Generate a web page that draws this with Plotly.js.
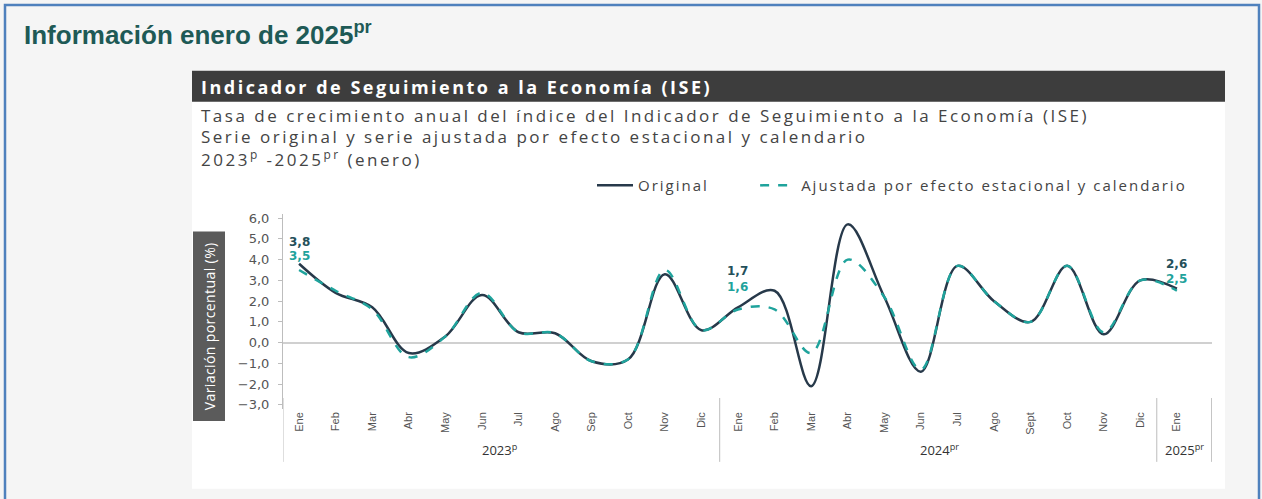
<!DOCTYPE html>
<html>
<head>
<meta charset="utf-8">
<script src="https://cdn.plot.ly/plotly-3.0.1.min.js"></script>
<style>
html,body{margin:0;padding:0;background:#f5f5f5;}
#chart{width:1262px;height:499px;}
text.annotation-text[style*="font-size: 18px"]{letter-spacing:2.5px;}
text.annotation-text[style*="font-size: 17px"]{letter-spacing:2.5px;}
text.annotation-text[style*="font-size: 14px"]{letter-spacing:0.4px;}
text.legendtext{letter-spacing:2px;}
</style>
</head>
<body>
<div id="chart"></div>
<script>
// ---- data ----
var months = ['Ene','Feb','Mar','Abr','May','Jun','Jul','Ago','Sep','Oct','Nov','Dic',
              'Ene','Feb','Mar','Abr','May','Jun','Jul','Ago','Sept','Oct','Nov','Dic',
              'Ene'];
var original = [3.8,2.4,1.7,-0.5,0.3,2.3,0.5,0.45,-0.9,-0.8,3.3,0.6,
                1.7,2.5,-2.1,5.7,2.2,-1.4,3.7,2.0,1.0,3.7,0.4,3.0,
                2.6];
var ajustada = [3.5,2.5,1.6,-0.7,0.3,2.4,0.5,0.45,-0.9,-0.8,3.5,0.6,
                1.6,1.6,-0.5,4.0,2.2,-1.3,3.7,2.0,1.0,3.7,0.5,3.0,
                2.5];
var years = ['2023<sup>p</sup>','2024<sup>pr</sup>','2025<sup>pr</sup>'];
var yearCenters = [5.5, 17.5, 24.2];
var yearBounds = [-0.44, 11.5, 23.45, 24.95];
var labelIdx = [0, 12, 24];
var subtitleLines = [
  'Tasa de crecimiento anual del índice del Indicador de Seguimiento a la Economía (ISE)',
  'Serie original y serie ajustada por efecto estacional y calendario',
  '2023<sup>p</sup> -2025<sup>pr</sup> (enero)'
];
var subtitleY = [115, 136, 158];

// ---- geometry helpers ----
var W = 1262, H = 499;
var L = 283, R = 1212, T = 213.5, B = 409;
function xp(px){ return (px - L) / (R - L); }
function yp(py){ return (B - py) / (B - T); }
function fmt(v){ return v.toFixed(1).replace('.', ','); }

var idx = months.map(function(_, i){ return i; });

var traces = [
  {x: idx, y: original, name: 'Original&nbsp;&nbsp;&nbsp;&nbsp;&nbsp;&nbsp;&nbsp;', type: 'scatter', mode: 'lines',
   line: {color: '#27394a', width: 2.5, shape: 'spline', smoothing: 1}},
  {x: idx, y: ajustada, name: 'Ajustada por efecto estacional y calendario', type: 'scatter', mode: 'lines',
   line: {color: '#1fa39c', width: 2.5, dash: 'dash', shape: 'spline', smoothing: 1}}
];

var shapes = [
  {type:'rect', xref:'paper', yref:'paper', x0:xp(5), x1:xp(1259), y0:yp(4), y1:yp(520),
   line:{color:'#4f81bd', width:2.5}, fillcolor:'rgba(0,0,0,0)', layer:'below'},
  {type:'rect', xref:'paper', yref:'paper', x0:xp(192), x1:xp(1225), y0:yp(70), y1:yp(489),
   line:{width:0}, fillcolor:'#ffffff', layer:'below'},
  {type:'rect', xref:'paper', yref:'paper', x0:xp(192), x1:xp(1225), y0:yp(70), y1:yp(101),
   line:{width:0}, fillcolor:'#3d3d3d', layer:'below'},
  {type:'rect', xref:'paper', yref:'paper', x0:xp(193), x1:xp(225), y0:yp(231), y1:yp(421),
   line:{width:0}, fillcolor:'#5b5b5b', layer:'below'}
];
yearBounds.forEach(function(b){
  shapes.push({type:'line', xref:'x', yref:'paper', x0:b, x1:b, y0:yp(398), y1:yp(462),
               line:{color:'#bdbdbd', width:1}});
});

var annotations = [
  {xref:'paper', yref:'paper', x:xp(22), y:yp(33), xanchor:'left', yanchor:'middle', showarrow:false,
   text:'<b>Información enero de 2025<sup>pr</sup></b>',
   font:{family:'Liberation Sans, Arial, sans-serif', size:26, color:'#1e5a56'}},
  {xref:'paper', yref:'paper', x:xp(199), y:yp(86), xanchor:'left', yanchor:'middle', showarrow:false,
   text:'<b>Indicador de Seguimiento a la Economía (ISE)</b>',
   font:{family:'Open Sans, sans-serif', size:18, color:'#ffffff'}},
  {xref:'paper', yref:'paper', x:xp(209), y:yp(326), xanchor:'center', yanchor:'middle', showarrow:false,
   textangle:-90, text:'Variación porcentual (%)',
   font:{family:'Open Sans, sans-serif', size:14, color:'#ffffff'}}
];
subtitleLines.forEach(function(t, i){
  annotations.push({xref:'paper', yref:'paper', x:xp(199), y:yp(subtitleY[i]), xanchor:'left', yanchor:'middle',
    showarrow:false, text:t, font:{family:'Open Sans, sans-serif', size:17, color:'#444444'}});
});
years.forEach(function(t, i){
  annotations.push({xref:'x', yref:'paper', x:yearCenters[i], y:yp(450), xanchor:'center', yanchor:'middle',
    showarrow:false, text:t, font:{family:'Open Sans, sans-serif', size:13, color:'#333333'}});
});
var shiftO = [22, 36, 25], shiftA = [8, 20, 10];
labelIdx.forEach(function(k, i){
  annotations.push({xref:'x', yref:'y', x:k, y:original[k], showarrow:false, yshift:shiftO[i],
    text:'<b>'+fmt(original[k])+'</b>', font:{family:'DejaVu Sans, sans-serif', size:12, color:'#24505a'}});
  annotations.push({xref:'x', yref:'y', x:k, y:original[k], showarrow:false, yshift:shiftA[i],
    text:'<b>'+fmt(ajustada[k])+'</b>', font:{family:'DejaVu Sans, sans-serif', size:12, color:'#1fa39c'}});
});

var layout = {
  width: W, height: H,
  margin: {l: L, r: W - R, t: T, b: H - B, pad: 0},
  paper_bgcolor: '#f5f5f5',
  plot_bgcolor: 'rgba(0,0,0,0)',
  separators: ',.',
  showlegend: true,
  legend: {orientation:'h', x:xp(592), y:yp(185), xanchor:'left', yanchor:'middle',
           bgcolor:'rgba(0,0,0,0)', font:{family:'Open Sans, sans-serif', size:15, color:'#444444'},
           itemwidth:36},
  xaxis: {range:[-0.44, 24.96], tickvals: idx, ticktext: months, tickangle:-90,
          showgrid:false, zeroline:false, showline:false, ticks:'',
          tickfont:{family:'Liberation Sans, Arial, sans-serif', size:11, color:'#555555'}},
  yaxis: {range:[-3.2, 6.2], tickvals:[-3,-2,-1,0,1,2,3,4,5,6], tickformat:'.1f',
          showgrid:false, zeroline:true, zerolinecolor:'#d0d0d0', zerolinewidth:2,
          showline:true, linecolor:'#bdbdbd', linewidth:1, ticks:'outside', ticklen:4, tickcolor:'#bdbdbd',
          ticklabelstandoff:6,
          tickfont:{family:'DejaVu Sans, sans-serif', size:13, color:'#555555'}},
  shapes: shapes,
  annotations: annotations
};

Plotly.newPlot('chart', traces, layout, {displayModeBar:false, staticPlot:true});
</script>
</body>
</html>
